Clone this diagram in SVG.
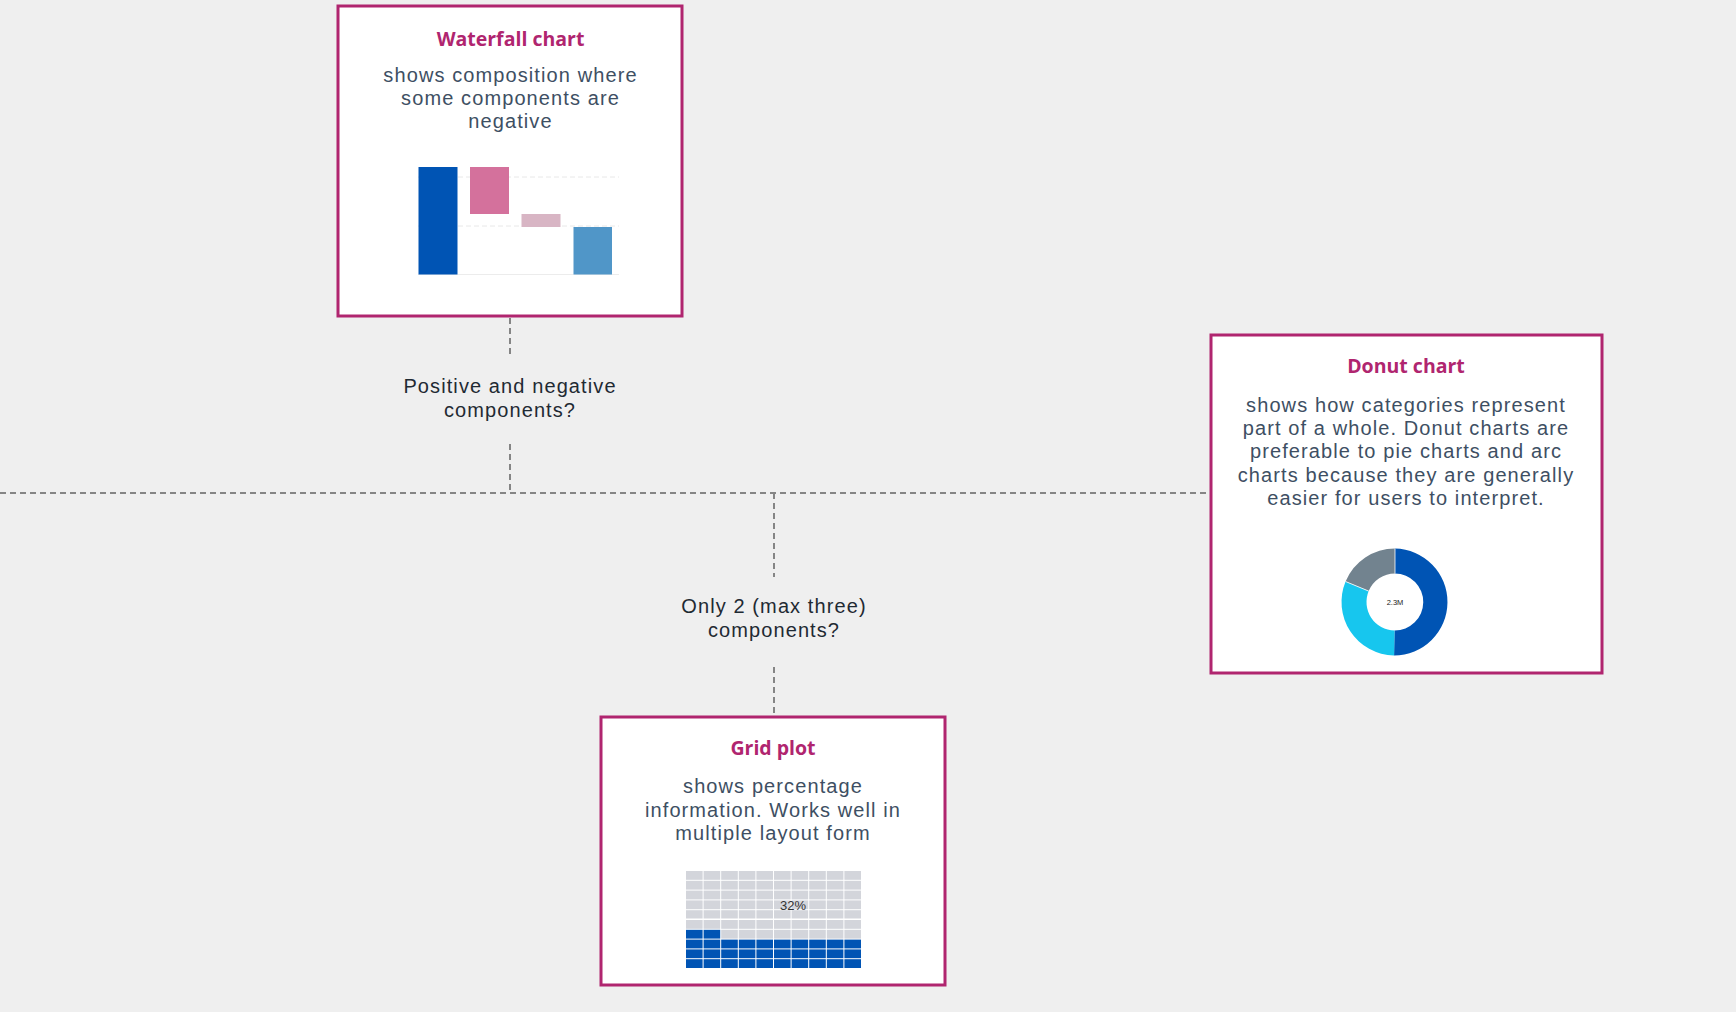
<svg xmlns="http://www.w3.org/2000/svg" width="1736" height="1012" viewBox="0 0 1736 1012">
  <style>
    .card { fill: #ffffff; stroke: #b0256f; stroke-width: 3; }
    .title { font-family: "Open Sans", "Noto Sans", sans-serif; font-weight: 700; font-size: 19.5px; fill: #b0256f; text-anchor: middle; }
    .body { font-family: "Liberation Sans", Arial, sans-serif; font-size: 20px; letter-spacing: 1.1px; fill: #3e4f63; text-anchor: middle; }
    .label { font-family: "Liberation Sans", Arial, sans-serif; font-size: 20px; letter-spacing: 1.1px; fill: #1f2a33; text-anchor: middle; }
    .conn { stroke: #858585; stroke-width: 2; stroke-dasharray: 6 4; fill: none; }
    .grid-line { stroke: #e8e8e8; stroke-width: 1; stroke-dasharray: 5 3; }
    .cell-off { fill: #d3d5db; }
    .cell-on { fill: #0054b4; }
  </style>
  <rect width="1736" height="1012" fill="#efefef"/>

  <g id="connectors">
    <line class="conn" x1="510" y1="318" x2="510" y2="358"/>
    <line class="conn" x1="510" y1="444" x2="510" y2="493"/>
    <line class="conn" x1="0" y1="493" x2="1209" y2="493"/>
    <line class="conn" x1="774" y1="493" x2="774" y2="577"/>
    <line class="conn" x1="774" y1="667" x2="774" y2="716"/>
    <text class="label" x="510" y="393">Positive and negative</text>
    <text class="label" x="510" y="417">components?</text>
    <text class="label" x="774" y="613">Only 2 (max three)</text>
    <text class="label" x="774" y="637">components?</text>
  </g>

  <g id="waterfall">
    <rect class="card" x="338" y="6" width="344" height="310"/>
    <text class="title" x="510.5" y="46">Waterfall chart</text>
    <text class="body" x="510.5" y="82">shows composition where</text>
    <text class="body" x="510.5" y="105">some components are</text>
    <text class="body" x="510.5" y="128">negative</text>
    <line class="grid-line" x1="418" y1="177" x2="619" y2="177"/>
    <line class="grid-line" x1="418" y1="226" x2="619" y2="226"/>
    <line x1="418" y1="274.5" x2="619" y2="274.5" stroke="#ececec" stroke-width="1"/>
    <rect x="418.5" y="167" width="39" height="107.5" fill="#0054b4"/>
    <rect x="470" y="167" width="39" height="47" fill="#d4719c"/>
    <rect x="521.5" y="214" width="39" height="13" fill="#d8b5c4"/>
    <rect x="573.5" y="227" width="38.5" height="47.5" fill="#5096c8"/>
  </g>

  <g id="donut">
    <rect class="card" x="1211" y="335" width="391" height="338"/>
    <text class="title" x="1406" y="373">Donut chart</text>
    <text class="body" x="1406" y="412">shows how categories represent</text>
    <text class="body" x="1406" y="435">part of a whole. Donut charts are</text>
    <text class="body" x="1406" y="458">preferable to pie charts and arc</text>
    <text class="body" x="1406" y="481.5">charts because they are generally</text>
    <text class="body" x="1406" y="505">easier for users to interpret.</text>
    <!-- ring: centre (1395,602), outer r 53.5, inner r 28.5 -->
    <path d="M1395 548.5 A53.5 53.5 0 0 1 1394.07 655.49 L1394.5 630.5 A28.5 28.5 0 0 0 1395 573.5 Z" fill="#0054b4"/>
    <path d="M1394.07 655.49 A53.5 53.5 0 0 1 1345.57 581.53 L1368.67 591.09 A28.5 28.5 0 0 0 1394.5 630.5 Z" fill="#17c6ee"/>
    <path d="M1345.57 581.53 A53.5 53.5 0 0 1 1395 548.5 L1395 573.5 A28.5 28.5 0 0 0 1368.67 591.09 Z" fill="#72838f"/>
    <line x1="1395" y1="548.5" x2="1395" y2="573.5" stroke="#ffffff" stroke-width="0.8"/>
    <line x1="1345.57" y1="581.53" x2="1368.67" y2="591.09" stroke="#ffffff" stroke-width="0.8"/>
    <text x="1395" y="604.5" font-family="Liberation Sans, Arial, sans-serif" font-size="7.5" fill="#222222" text-anchor="middle">2.3M</text>
  </g>

  <g id="grid-plot">
    <rect class="card" x="601" y="717" width="344" height="268"/>
    <text class="title" x="773" y="755">Grid plot</text>
    <text class="body" x="773" y="793">shows percentage</text>
    <text class="body" x="773" y="816.5">information. Works well in</text>
    <text class="body" x="773" y="840">multiple layout form</text>
    <g id="grid-cells">
      <!-- rows 0-6 grey -->
      <g class="cell-off">
        <rect x="686" y="871" width="16.6" height="8.8"/><rect x="703.6" y="871" width="16.6" height="8.8"/><rect x="721.2" y="871" width="16.6" height="8.8"/><rect x="738.8" y="871" width="16.6" height="8.8"/><rect x="756.4" y="871" width="16.6" height="8.8"/><rect x="774" y="871" width="16.6" height="8.8"/><rect x="791.6" y="871" width="16.6" height="8.8"/><rect x="809.2" y="871" width="16.6" height="8.8"/><rect x="826.8" y="871" width="16.6" height="8.8"/><rect x="844.4" y="871" width="16.6" height="8.8"/>
        <rect x="686" y="880.8" width="16.6" height="8.8"/><rect x="703.6" y="880.8" width="16.6" height="8.8"/><rect x="721.2" y="880.8" width="16.6" height="8.8"/><rect x="738.8" y="880.8" width="16.6" height="8.8"/><rect x="756.4" y="880.8" width="16.6" height="8.8"/><rect x="774" y="880.8" width="16.6" height="8.8"/><rect x="791.6" y="880.8" width="16.6" height="8.8"/><rect x="809.2" y="880.8" width="16.6" height="8.8"/><rect x="826.8" y="880.8" width="16.6" height="8.8"/><rect x="844.4" y="880.8" width="16.6" height="8.8"/>
        <rect x="686" y="890.6" width="16.6" height="8.8"/><rect x="703.6" y="890.6" width="16.6" height="8.8"/><rect x="721.2" y="890.6" width="16.6" height="8.8"/><rect x="738.8" y="890.6" width="16.6" height="8.8"/><rect x="756.4" y="890.6" width="16.6" height="8.8"/><rect x="774" y="890.6" width="16.6" height="8.8"/><rect x="791.6" y="890.6" width="16.6" height="8.8"/><rect x="809.2" y="890.6" width="16.6" height="8.8"/><rect x="826.8" y="890.6" width="16.6" height="8.8"/><rect x="844.4" y="890.6" width="16.6" height="8.8"/>
        <rect x="686" y="900.4" width="16.6" height="8.8"/><rect x="703.6" y="900.4" width="16.6" height="8.8"/><rect x="721.2" y="900.4" width="16.6" height="8.8"/><rect x="738.8" y="900.4" width="16.6" height="8.8"/><rect x="756.4" y="900.4" width="16.6" height="8.8"/><rect x="774" y="900.4" width="16.6" height="8.8"/><rect x="791.6" y="900.4" width="16.6" height="8.8"/><rect x="809.2" y="900.4" width="16.6" height="8.8"/><rect x="826.8" y="900.4" width="16.6" height="8.8"/><rect x="844.4" y="900.4" width="16.6" height="8.8"/>
        <rect x="686" y="910.2" width="16.6" height="8.3"/><rect x="703.6" y="910.2" width="16.6" height="8.3"/><rect x="721.2" y="910.2" width="16.6" height="8.3"/><rect x="738.8" y="910.2" width="16.6" height="8.3"/><rect x="756.4" y="910.2" width="16.6" height="8.3"/><rect x="774" y="910.2" width="16.6" height="8.3"/><rect x="791.6" y="910.2" width="16.6" height="8.3"/><rect x="809.2" y="910.2" width="16.6" height="8.3"/><rect x="826.8" y="910.2" width="16.6" height="8.3"/><rect x="844.4" y="910.2" width="16.6" height="8.3"/>
        <rect x="686" y="920" width="16.6" height="8.8"/><rect x="703.6" y="920" width="16.6" height="8.8"/><rect x="721.2" y="920" width="16.6" height="8.8"/><rect x="738.8" y="920" width="16.6" height="8.8"/><rect x="756.4" y="920" width="16.6" height="8.8"/><rect x="774" y="920" width="16.6" height="8.8"/><rect x="791.6" y="920" width="16.6" height="8.8"/><rect x="809.2" y="920" width="16.6" height="8.8"/><rect x="826.8" y="920" width="16.6" height="8.8"/><rect x="844.4" y="920" width="16.6" height="8.8"/>
        <rect x="721.2" y="929.8" width="16.6" height="8.8"/><rect x="738.8" y="929.8" width="16.6" height="8.8"/><rect x="756.4" y="929.8" width="16.6" height="8.8"/><rect x="774" y="929.8" width="16.6" height="8.8"/><rect x="791.6" y="929.8" width="16.6" height="8.8"/><rect x="809.2" y="929.8" width="16.6" height="8.8"/><rect x="826.8" y="929.8" width="16.6" height="8.8"/><rect x="844.4" y="929.8" width="16.6" height="8.8"/>
      </g>
      <g class="cell-on">
        <rect x="686" y="929.8" width="16.6" height="8.8"/><rect x="703.6" y="929.8" width="16.6" height="8.8"/>
        <rect x="686" y="939.6" width="16.6" height="8.8"/><rect x="703.6" y="939.6" width="16.6" height="8.8"/><rect x="721.2" y="939.6" width="16.6" height="8.8"/><rect x="738.8" y="939.6" width="16.6" height="8.8"/><rect x="756.4" y="939.6" width="16.6" height="8.8"/><rect x="774" y="939.6" width="16.6" height="8.8"/><rect x="791.6" y="939.6" width="16.6" height="8.8"/><rect x="809.2" y="939.6" width="16.6" height="8.8"/><rect x="826.8" y="939.6" width="16.6" height="8.8"/><rect x="844.4" y="939.6" width="16.6" height="8.8"/>
        <rect x="686" y="949.4" width="16.6" height="8.8"/><rect x="703.6" y="949.4" width="16.6" height="8.8"/><rect x="721.2" y="949.4" width="16.6" height="8.8"/><rect x="738.8" y="949.4" width="16.6" height="8.8"/><rect x="756.4" y="949.4" width="16.6" height="8.8"/><rect x="774" y="949.4" width="16.6" height="8.8"/><rect x="791.6" y="949.4" width="16.6" height="8.8"/><rect x="809.2" y="949.4" width="16.6" height="8.8"/><rect x="826.8" y="949.4" width="16.6" height="8.8"/><rect x="844.4" y="949.4" width="16.6" height="8.8"/>
        <rect x="686" y="959.2" width="16.6" height="8.8"/><rect x="703.6" y="959.2" width="16.6" height="8.8"/><rect x="721.2" y="959.2" width="16.6" height="8.8"/><rect x="738.8" y="959.2" width="16.6" height="8.8"/><rect x="756.4" y="959.2" width="16.6" height="8.8"/><rect x="774" y="959.2" width="16.6" height="8.8"/><rect x="791.6" y="959.2" width="16.6" height="8.8"/><rect x="809.2" y="959.2" width="16.6" height="8.8"/><rect x="826.8" y="959.2" width="16.6" height="8.8"/><rect x="844.4" y="959.2" width="16.6" height="8.8"/>
      </g>
    </g>
    <text x="793" y="910" font-family="Liberation Sans, Arial, sans-serif" font-size="13" fill="#333333" text-anchor="middle">32%</text>
  </g>
</svg>
